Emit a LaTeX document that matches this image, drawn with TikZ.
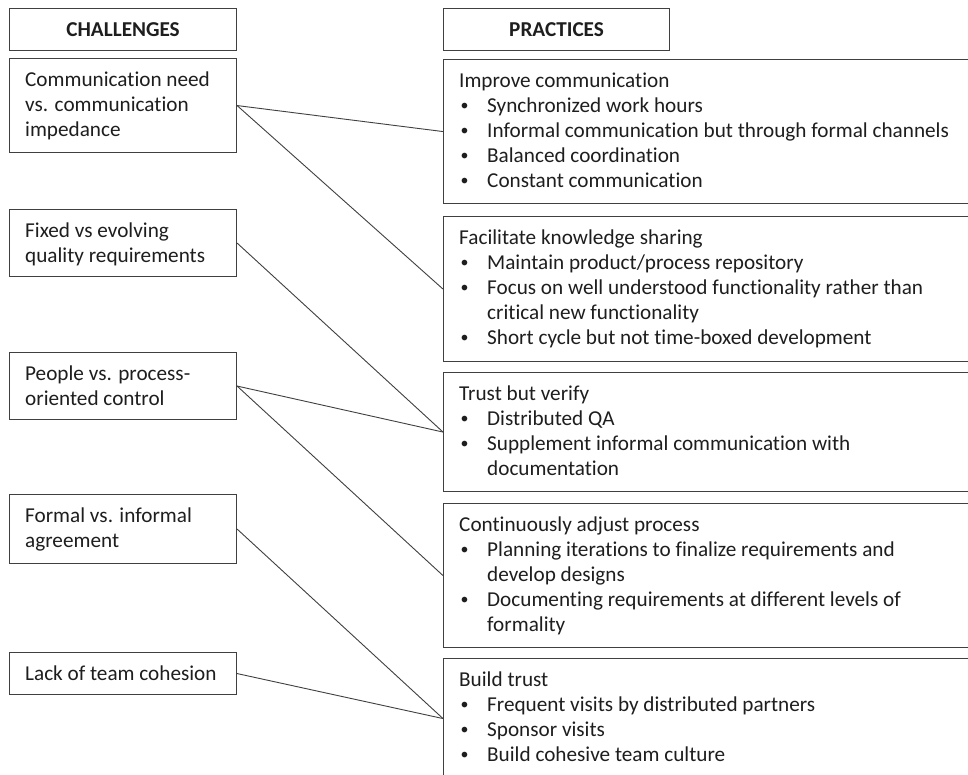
\documentclass[tikz,border=0pt]{standalone}
\usepackage{fontspec}
\setmainfont{Carlito}[Ligatures=CommonOff]
\definecolor{linec}{HTML}{404040}
\definecolor{textc}{HTML}{1E1E1E}
\newcommand{\pbul}{\makebox[28pt][l]{\hspace{1.5pt}\raisebox{1.8pt}{\scalebox{0.75}{\textbullet}}}}
\newcommand{\pcont}{\hspace*{28pt}}
\tikzset{
  box/.style={draw=linec, line width=1.1pt, inner sep=0pt, anchor=north west},
  hdr/.style={box, font=\fontsize{21.2}{25}\selectfont\bfseries, text=textc},
  txt/.style={anchor=north west, inner sep=0pt, align=left, text=textc,
              font=\fontsize{21.2}{25}\selectfont},
  conn/.style={draw=linec, line width=0.9pt},
}
\begin{document}
\begin{tikzpicture}[x=1pt,y=-1pt]
\useasboundingbox (0,0) rectangle (968,774);
\fill[white] (0,0) rectangle (968,774);
\clip (0,0) rectangle (968,774);
% headers
\node[hdr, minimum width=227pt, minimum height=42pt] (hc) at (9,8) {CHALLENGES};
\node[hdr, minimum width=226pt, minimum height=42pt] (hp) at (443,8) {PRACTICES};
% challenge boxes
\node[box, minimum width=227pt, minimum height=94pt] (c1) at (9,58) {};
\node[box, minimum width=227pt, minimum height=67pt] (c2) at (9,209) {};
\node[box, minimum width=227pt, minimum height=67pt] (c3) at (9,352) {};
\node[box, minimum width=227pt, minimum height=69pt] (c4) at (9,494) {};
\node[box, minimum width=227pt, minimum height=42pt] (c5) at (9,652) {};
\node[txt] (c1t) at (25,68.5) {\strut Communication need\\vs. communication\\impedance};
\node[txt] (c2t) at (25,219.5) {\strut Fixed vs evolving\\quality requirements};
\node[txt] (c3t) at (25,362.5) {\strut People vs. process-\\oriented control};
\node[txt] (c4t) at (25,504.5) {\strut Formal vs. informal\\agreement};
\node[txt] (c5t) at (25,662.5) {\strut Lack of team cohesion};
% practice boxes
\node[box, minimum width=547pt, minimum height=144pt] (p1) at (443,59) {};
\node[box, minimum width=547pt, minimum height=145pt] (p2) at (443,216) {};
\node[box, minimum width=547pt, minimum height=119pt] (p3) at (443,372) {};
\node[box, minimum width=547pt, minimum height=144pt] (p4) at (443,503) {};
\node[box, minimum width=547pt, minimum height=120pt] (p5) at (443,658) {};
\node[txt] (p1t) at (459,69.5) {\strut Improve communication\\
  \pbul Synchronized work hours\\
  \pbul Informal communication but through formal channels\\
  \pbul Balanced coordination\\
  \pbul Constant communication};
\node[txt] (p2t) at (459,226.5) {\strut Facilitate knowledge sharing\\
  \pbul Maintain product/process repository\\
  \pbul Focus on well understood functionality rather than\\
  \pcont critical new functionality\\
  \pbul Short cycle but not time-boxed development};
\node[txt] (p3t) at (459,382.5) {\strut Trust but verify\\
  \pbul Distributed QA\\
  \pbul Supplement informal communication with\\
  \pcont documentation};
\node[txt] (p4t) at (459,513.5) {\strut Continuously adjust process\\
  \pbul Planning iterations to finalize requirements and\\
  \pcont develop designs\\
  \pbul Documenting requirements at different levels of\\
  \pcont formality};
\node[txt] (p5t) at (459,668.5) {\strut Build trust\\
  \pbul Frequent visits by distributed partners\\
  \pbul Sponsor visits\\
  \pbul Build cohesive team culture};
% connectors
\draw[conn] (c1.east) -- (p1.west);
\draw[conn] (c1.east) -- (p2.west);
\draw[conn] (c2.east) -- (p3.west);
\draw[conn] (c3.east) -- (p3.west);
\draw[conn] (c3.east) -- (p4.west);
\draw[conn] (c4.east) -- (p5.west);
\draw[conn] (c5.east) -- (p5.west);
\end{tikzpicture}
\end{document}
